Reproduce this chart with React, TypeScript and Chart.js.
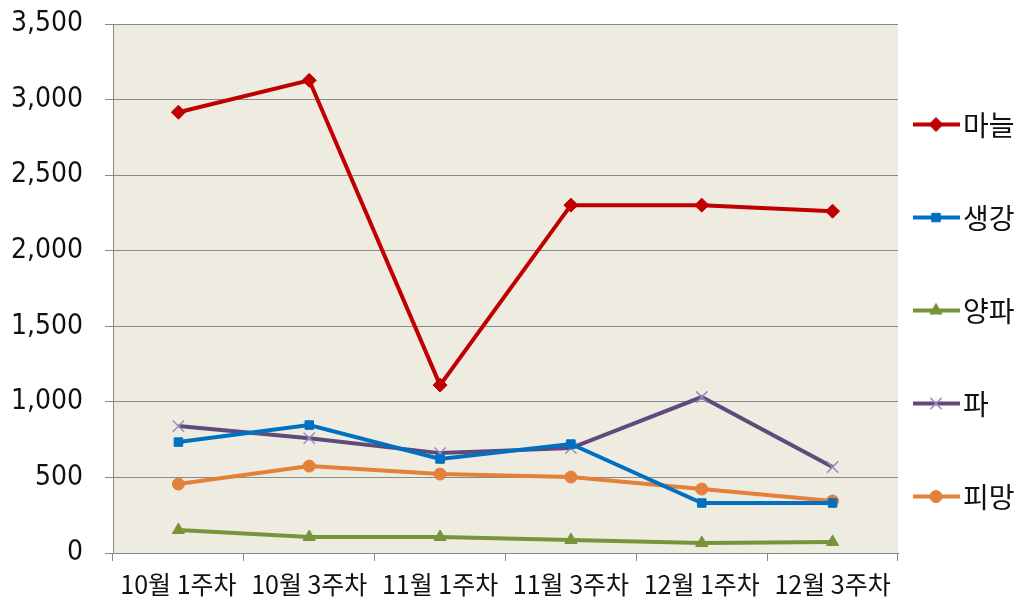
import React, { useEffect, useRef } from 'react';
import { Chart, registerables } from 'chart.js';
import { drawPoint } from 'chart.js/helpers';
Chart.register(...registerables);

const categories = ['10월 1주차', '10월 3주차', '11월 1주차', '11월 3주차', '12월 1주차', '12월 3주차'];
const seriesNames = ['마늘', '생강', '양파', '파', '피망'];
const garlic = [2917, 3128, 1111, 2302, 2302, 2262];
const ginger = [734, 847, 622, 721, 331, 331];
const onion = [152, 106, 106, 86, 66, 73];
const greenOnion = [840, 760, 661, 694, 1032, 569];
const pepper = [456, 575, 522, 503, 423, 344];
const yMin = 0;
const yMax = 3500;
const yStep = 500;

const NUM_FONT = "'Liberation Sans Narrow', 'DejaVu Sans Condensed', 'Liberation Sans', sans-serif";
const KR_FONT = "'Noto Sans CJK KR', 'Noto Sans', sans-serif";

const plotBg = {
  id: 'plotBg',
  beforeDraw(chart: any) {
    const { ctx, chartArea } = chart;
    if (!chartArea) return;
    ctx.save();
    ctx.fillStyle = '#EEECE1';
    ctx.fillRect(chartArea.left, chartArea.top, chartArea.right - chartArea.left, chartArea.bottom - chartArea.top);
    ctx.restore();
  },
};

const sideLegend = {
  id: 'sideLegend',
  afterDraw(chart: any) {
    const { ctx, chartArea } = chart;
    const n = chart.data.datasets.length;
    const spacing = 93;
    const centerY = (chartArea.top + chartArea.bottom) / 2 + 22;
    const startY = centerY - ((n - 1) * spacing) / 2;
    const x0 = chartArea.right + 15;
    ctx.save();
    chart.data.datasets.forEach((ds: any, i: number) => {
      const y = startY + i * spacing;
      ctx.strokeStyle = ds.borderColor;
      ctx.lineWidth = 4;
      ctx.beginPath();
      ctx.moveTo(x0, y);
      ctx.lineTo(x0 + 47, y);
      ctx.stroke();
      ctx.fillStyle = ds.pointBackgroundColor;
      ctx.strokeStyle = ds.pointBorderColor;
      ctx.lineWidth = ds.pointBorderWidth;
      drawPoint(ctx, { pointStyle: ds.pointStyle, rotation: 0, radius: ds.pointRadius, borderWidth: ds.pointBorderWidth }, x0 + 23, y);
      ctx.fillStyle = '#111';
      ctx.font = `28px ${KR_FONT}`;
      ctx.textBaseline = 'middle';
      ctx.textAlign = 'left';
      ctx.fillText(ds.label, x0 + 50, y + 1);
    });
    ctx.restore();
  },
};

function makeDs(label: string, data: number[], color: string, style: string, r: number, markerColor?: string, bw = 1) {
  return {
    label,
    data,
    borderColor: color,
    backgroundColor: color,
    borderWidth: 4,
    pointStyle: style,
    pointRadius: r,
    pointHoverRadius: r,
    pointBackgroundColor: markerColor || color,
    pointBorderColor: markerColor || color,
    pointBorderWidth: bw,
    tension: 0,
  };
}

export default function App() {
  const ref = useRef<HTMLCanvasElement>(null);
  useEffect(() => {
    document.body.style.margin = '0';
    const chart = new Chart(ref.current!, {
      type: 'line',
      data: {
        labels: categories,
        datasets: [
          makeDs(seriesNames[0], garlic, '#C00000', 'rectRot', 7),
          makeDs(seriesNames[1], ginger, '#0070C0', 'rect', 6),
          makeDs(seriesNames[2], onion, '#77933C', 'triangle', 7),
          makeDs(seriesNames[3], greenOnion, '#604A7B', 'crossRot', 8, '#9A8CC0', 1.5),
          makeDs(seriesNames[4], pepper, '#E3803A', 'circle', 6),
        ] as any,
      },
      options: {
        animation: false,
        responsive: false,
        layout: { padding: { left: 0, right: 125, top: 0, bottom: 2 } },
        plugins: { legend: { display: false }, tooltip: { enabled: false } },
        scales: {
          x: {
            offset: true,
            afterFit: (scale: any) => { scale.height = 45; },
            grid: { offset: true, drawOnChartArea: false, drawTicks: true, tickLength: 8, color: '#888' },
            border: { display: true, color: '#888', width: 1 },
            ticks: {
              color: '#111',
              font: { family: KR_FONT, size: 25, lineHeight: 0.28 },
              maxRotation: 0,
              autoSkip: false,
              padding: 20,
            },
          },
          y: {
            min: yMin,
            max: yMax,
            afterFit: (scale: any) => { scale.width = 113; },
            grid: { color: '#8A8A8A', lineWidth: 1, tickLength: 8, drawTicks: true },
            border: { display: true, color: '#888', width: 1 },
            ticks: {
              stepSize: yStep,
              color: '#111',
              padding: 22,
              font: { family: NUM_FONT, size: 28, lineHeight: 0.15 },
              callback: (v: any) => Number(v).toLocaleString('en-US'),
            },
          },
        },
      },
      plugins: [plotBg, sideLegend],
    });
    return () => chart.destroy();
  }, []);
  return (
    <div style={{ position: 'absolute', left: 0, top: 0, width: 1023, height: 600, background: '#fff' }}>
      <canvas ref={ref} width={1023} height={600} />
    </div>
  );
}
